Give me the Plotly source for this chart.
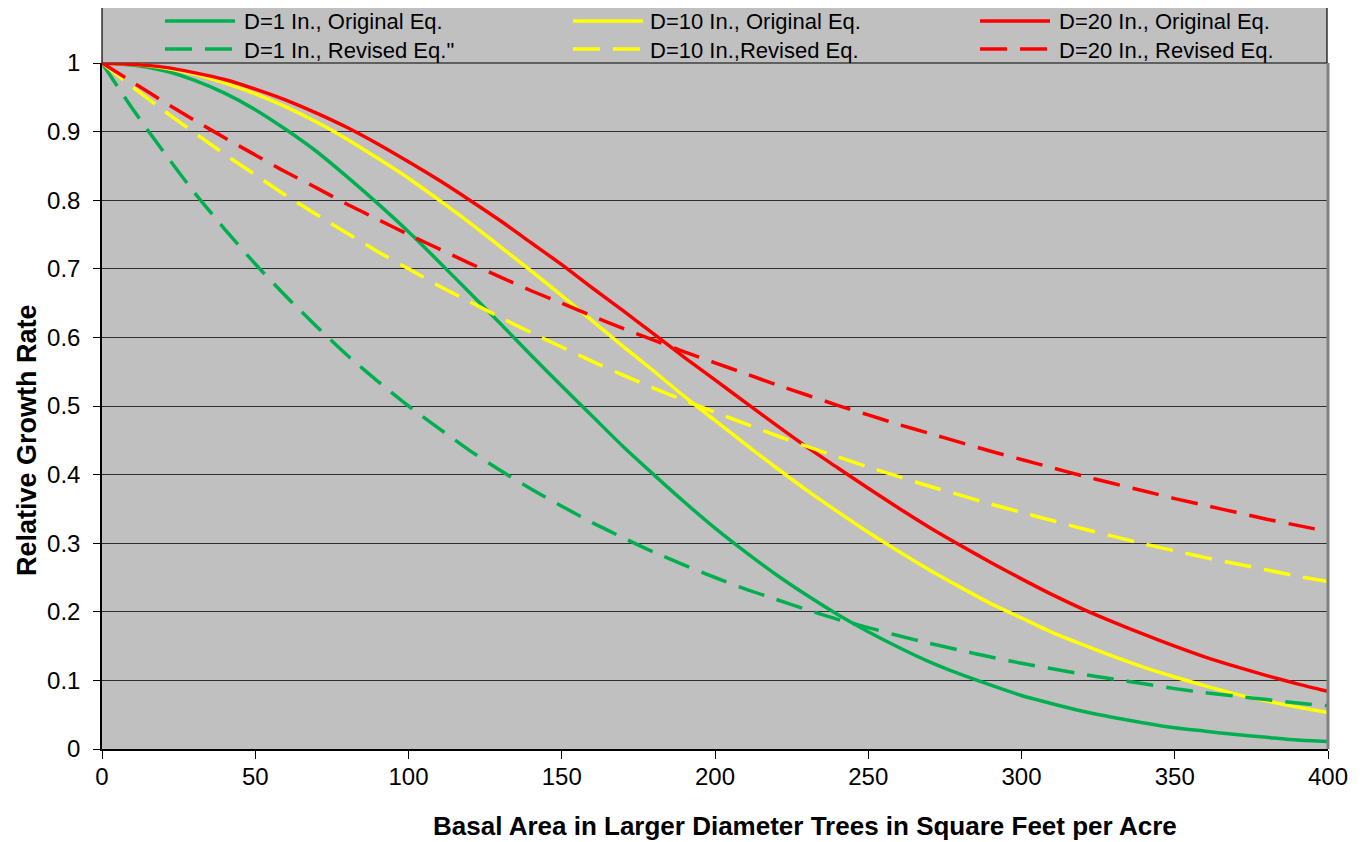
import plotly.graph_objects as go

# ---------------- data ----------------
basal_area = [0, 10, 20, 30, 40, 50, 60, 70, 80, 90, 100, 110, 120, 130, 140, 150, 160,
              170, 180, 190, 200, 210, 220, 230, 240, 250, 260, 270, 280, 290, 300,
              310, 320, 330, 340, 350, 360, 370, 380, 390, 400]

d1_original = [1.000, 0.997, 0.989, 0.975, 0.956, 0.932, 0.903, 0.871, 0.834, 0.795, 0.754,
               0.710, 0.665, 0.620, 0.574, 0.529, 0.485, 0.441, 0.400, 0.360, 0.322,
               0.287, 0.254, 0.224, 0.196, 0.171, 0.148, 0.127, 0.109, 0.093, 0.078,
               0.066, 0.055, 0.046, 0.038, 0.031, 0.026, 0.021, 0.017, 0.013, 0.011]

d10_original = [1.000, 0.998, 0.993, 0.984, 0.971, 0.955, 0.936, 0.914, 0.889, 0.861, 0.832,
                0.800, 0.767, 0.732, 0.697, 0.661, 0.624, 0.587, 0.551, 0.514, 0.479,
                0.444, 0.410, 0.377, 0.346, 0.316, 0.288, 0.261, 0.236, 0.212, 0.191,
                0.170, 0.152, 0.135, 0.119, 0.105, 0.092, 0.080, 0.070, 0.061, 0.053]

d20_original = [1.000, 0.998, 0.994, 0.986, 0.976, 0.962, 0.946, 0.927, 0.906, 0.882, 0.856,
                0.829, 0.800, 0.770, 0.738, 0.706, 0.672, 0.639, 0.605, 0.571, 0.538,
                0.505, 0.472, 0.440, 0.410, 0.380, 0.351, 0.323, 0.297, 0.272, 0.248,
                0.225, 0.204, 0.185, 0.167, 0.150, 0.134, 0.120, 0.107, 0.095, 0.084]

d1_revised = [1.000, 0.933, 0.871, 0.812, 0.758, 0.707, 0.660, 0.616, 0.574, 0.536, 0.500,
              0.467, 0.435, 0.406, 0.379, 0.354, 0.330, 0.308, 0.287, 0.268, 0.250,
              0.233, 0.218, 0.203, 0.189, 0.177, 0.165, 0.154, 0.144, 0.134, 0.125,
              0.117, 0.109, 0.102, 0.095, 0.088, 0.082, 0.077, 0.072, 0.067, 0.063]

d10_revised = [1.000, 0.965, 0.931, 0.899, 0.867, 0.837, 0.807, 0.779, 0.752, 0.725, 0.700,
               0.675, 0.652, 0.629, 0.607, 0.586, 0.565, 0.545, 0.526, 0.508, 0.491,
               0.474, 0.457, 0.441, 0.426, 0.411, 0.397, 0.383, 0.370, 0.357, 0.345,
               0.333, 0.321, 0.310, 0.299, 0.289, 0.279, 0.270, 0.261, 0.252, 0.244]

d20_revised = [1.000, 0.972, 0.944, 0.917, 0.891, 0.866, 0.841, 0.818, 0.794, 0.772, 0.750,
               0.729, 0.708, 0.688, 0.668, 0.650, 0.631, 0.613, 0.596, 0.579, 0.563,
               0.547, 0.531, 0.516, 0.501, 0.487, 0.473, 0.460, 0.447, 0.434, 0.422,
               0.410, 0.398, 0.387, 0.376, 0.365, 0.355, 0.345, 0.335, 0.326, 0.317]

series_names = ["D=1 In., Original Eq.", "D=10 In., Original Eq.", "D=20 In., Original Eq.",
                "D=1 In., Revised Eq.\"", "D=10 In.,Revised Eq.", "D=20 In., Revised Eq."]
series_values = [d1_original, d10_original, d20_original, d1_revised, d10_revised, d20_revised]
series_colors = ["#00B050", "#FFFF00", "#FF0000", "#00B050", "#FFFF00", "#FF0000"]
series_dashed = [False, False, False, True, True, True]

x_title = "Basal Area in Larger Diameter Trees in Square Feet per Acre"
y_title = "Relative Growth Rate"
x_ticks = [0, 50, 100, 150, 200, 250, 300, 350, 400]
y_ticks = [0, 0.1, 0.2, 0.3, 0.4, 0.5, 0.6, 0.7, 0.8, 0.9, 1]
y_tick_labels = ["0", "0.1", "0.2", "0.3", "0.4", "0.5", "0.6", "0.7", "0.8", "0.9", "1"]

# ---------------- layout geometry ----------------
# The page places the figure 8 px from the top-left corner (default body margin),
# so target positions (screen px) are converted with that offset.
OFF = 8
W, H = 1365 - OFF, 842 - OFF
PLOT_L, PLOT_R, PLOT_T, PLOT_B = 102, 1328, 63, 749   # screen px of plot area
ML = PLOT_L - OFF
MT = PLOT_T - OFF
MR = W - (PLOT_R - OFF)
MB = H - (PLOT_B - OFF)
PW, PH = PLOT_R - PLOT_L, PLOT_B - PLOT_T
FONT = "Liberation Sans, Arial, sans-serif"
DASH = "27px,13px"
LW = 3.5


def px2x(px):
    return (px - PLOT_L) / PW


def py2y(py):
    return (PLOT_B - py) / PH


fig = go.Figure()
for name, vals, col, dashed in zip(series_names, series_values, series_colors, series_dashed):
    fig.add_trace(go.Scatter(
        x=basal_area, y=vals, mode="lines", name=name, showlegend=False,
        line=dict(color=col, width=LW, dash=DASH if dashed else "solid", shape="spline",
                  smoothing=0.6),
        hoverinfo="x+y+name",
    ))

shapes = []
annotations = []

# legend box above plot area
shapes.append(dict(type="rect", xref="paper", yref="paper",
                   x0=px2x(102), x1=px2x(1327), y0=py2y(63), y1=py2y(6),
                   fillcolor="#C0C0C0", line=dict(color="#000000", width=1.2), layer="below"))

# legend entries: columns (line start x, text x), rows y  (screen px)
col_line_x = [165, 573, 980]
col_text_x = [242, 648, 1057]
row_y = [21, 49]
for i, (name, col, dashed) in enumerate(zip(series_names, series_colors, series_dashed)):
    c = i % 3
    r = i // 3
    shapes.append(dict(type="line", xref="paper", yref="paper",
                       x0=px2x(col_line_x[c]), x1=px2x(col_line_x[c] + 70),
                       y0=py2y(row_y[r]), y1=py2y(row_y[r]),
                       line=dict(color=col, width=LW, dash=DASH if dashed else "solid")))
    annotations.append(dict(text=name, xref="paper", yref="paper",
                            x=px2x(col_text_x[c]), y=py2y(row_y[r] + 1),
                            xanchor="left", yanchor="middle", showarrow=False,
                            font=dict(family=FONT, size=22, color="#000000")))

# right border of plot area
shapes.append(dict(type="line", xref="paper", yref="paper", x0=1, x1=1, y0=0, y1=1,
                   line=dict(color="#808080", width=3)))

# axis titles
annotations.append(dict(text="<b>" + x_title + "</b>", xref="paper", yref="paper",
                        x=px2x(805), y=py2y(826), xanchor="center", yanchor="middle",
                        showarrow=False, font=dict(family=FONT, size=26, color="#000000")))
annotations.append(dict(text="<b>" + y_title + "</b>", xref="paper", yref="paper",
                        x=px2x(27), y=py2y(440), xanchor="center", yanchor="middle",
                        textangle=-90, showarrow=False, borderpad=0,
                        font=dict(family=FONT, size=27, color="#000000")))

fig.update_layout(
    width=W, height=H,
    margin=dict(l=ML, r=MR, t=MT, b=MB, pad=0),
    paper_bgcolor="#FFFFFF",
    plot_bgcolor="#C0C0C0",
    font=dict(family=FONT, size=24, color="#000000"),
    shapes=shapes,
    annotations=annotations,
    showlegend=False,
    xaxis=dict(range=[0, 400], tickvals=x_ticks, ticktext=[str(v) for v in x_ticks],
               showgrid=False, zeroline=False, showline=True, linecolor="#000000",
               linewidth=1.5, ticks="outside", ticklen=8, tickcolor="#000000",
               tickwidth=1.2, ticklabelstandoff=-3,
               tickfont=dict(family=FONT, size=24, color="#000000")),
    yaxis=dict(range=[0, 1], tickvals=y_ticks, ticktext=y_tick_labels,
               showgrid=True, gridcolor="#2e2e2e", gridwidth=1.2, zeroline=False,
               showline=True, linecolor="#000000", linewidth=1.5, ticks="outside",
               ticklen=7, tickcolor="#000000", tickwidth=1.2, ticklabelstandoff=8,
               tickfont=dict(family=FONT, size=24, color="#000000")),
)

fig.write_html("out.html")
